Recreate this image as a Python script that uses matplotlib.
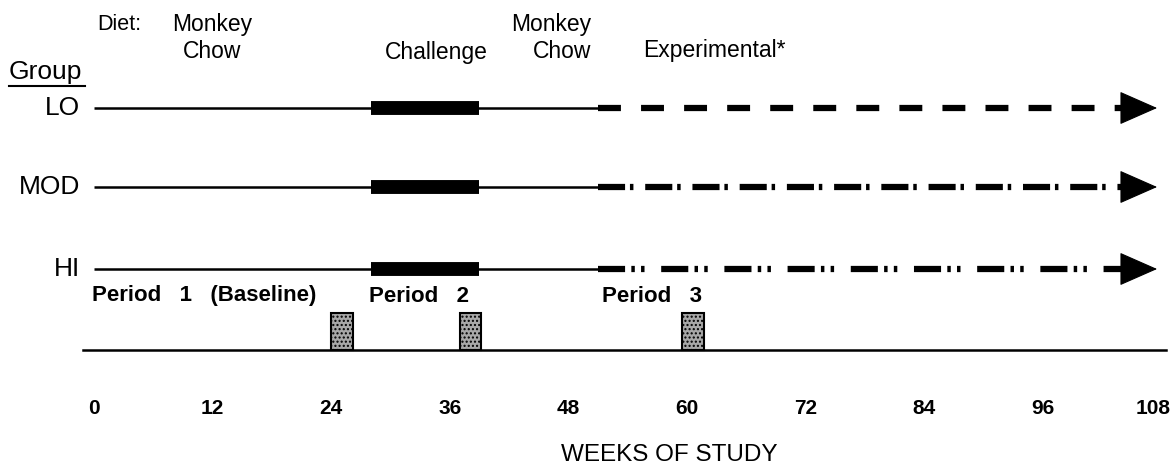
import matplotlib
matplotlib.use("Agg")
import matplotlib.pyplot as plt

plt.rcParams["font.family"] = ["Liberation Sans", "DejaVu Sans"]
plt.rcParams["lines.scale_dashes"] = False
plt.rcParams["hatch.color"] = "#6a6a6a"

# study design (weeks)
groups = ["LO", "MOD", "HI"]
chow_weeks = (0, 51)          # monkey chow, then back to chow after challenge
challenge_weeks = (28, 39)    # challenge diet
experimental_weeks = (51, 104)
arrow_end = 107.6
sample_weeks = [24, 37, 59.5]
sample_width = 2.2
tick_weeks = [0, 12, 24, 36, 48, 60, 72, 84, 96, 108]

period_labels = ["Period   1   (Baseline)", "Period   2", "Period   3"]
period_weeks = [-0.2, 27.8, 51.4]

# layout (pixel rows, figure is 1172 x 466)
group_y = [108, 187, 269]
dash_styles = [
    (0, (16.5, 14.5)),
    (0, (19.5, 3.5, 2.5, 8.5)),
    (0, (19.5, 4.5, 2.5, 4.5, 2.5, 12)),
]
base_y = 350
box_top = 313

fig = plt.figure(figsize=(11.72, 4.66), dpi=100)
ax = fig.add_axes([0, 0, 1, 1])
ax.set_xlim(-94 / 9.88, (1172 - 94) / 9.88)
ax.set_ylim(466, 0)
ax.axis("off")

for name, y, ls in zip(groups, group_y, dash_styles):
    ax.plot(chow_weeks, [y, y], color="black", lw=1.8, solid_capstyle="butt")
    ax.plot(challenge_weeks, [y, y], color="black", lw=10, solid_capstyle="butt")
    ax.plot(experimental_weeks, [y, y], color="black", lw=4.5,
            linestyle=ls, dash_capstyle="butt")
    ax.annotate("", xy=(arrow_end, y), xytext=(experimental_weeks[1], y),
                arrowprops=dict(arrowstyle="-|>,head_length=2.5,head_width=1.1",
                                color="black", lw=0.8, shrinkA=0, shrinkB=0))
    ax.text(-1.4, y, name, ha="right", va="center", fontsize=19)

# sampling boxes on baseline
ax.plot([-1.1, 108.5], [base_y, base_y], color="black", lw=1.8)
ax.bar(sample_weeks, base_y - box_top, width=sample_width, bottom=box_top,
       align="edge", color="#a8a8a8", edgecolor="black", linewidth=1.5,
       hatch="....")

for lab, w in zip(period_labels, period_weeks):
    ax.text(w, 296, lab, ha="left", va="center", fontsize=16, fontweight="bold")

# diet headers
ax.text(0.3, 25, "Diet:", ha="left", va="center", fontsize=15.5)
ax.text(12, 25, "Monkey", ha="center", va="center", fontsize=16.5)
ax.text(12, 51, "Chow", ha="center", va="center", fontsize=16.5)
ax.text(34.6, 53, "Challenge", ha="center", va="center", fontsize=16.5)
ax.text(46.3, 25, "Monkey", ha="center", va="center", fontsize=16.5)
ax.text(47.4, 51, "Chow", ha="center", va="center", fontsize=16.5)
ax.text(55.6, 51, "Experimental*", ha="left", va="center", fontsize=16.5)
ax.text(-8.6, 72, "Group", ha="left", va="center", fontsize=19)
ax.plot([-8.6, -0.9], [86, 86], color="black", lw=1.5)

x_right = ax.get_xlim()[1]
for w in tick_weeks:
    if w == tick_weeks[-1]:
        # last label sits against the right edge
        ax.text(x_right - 0.1, 409, str(w), ha="right", va="center",
                fontsize=15, fontweight="bold")
    else:
        ax.text(w, 409, str(w), ha="center", va="center", fontsize=15,
                fontweight="bold")
ax.text(58.2, 455, "WEEKS OF STUDY", ha="center", va="center", fontsize=17.5)

fig.savefig("out.png", dpi=100)
